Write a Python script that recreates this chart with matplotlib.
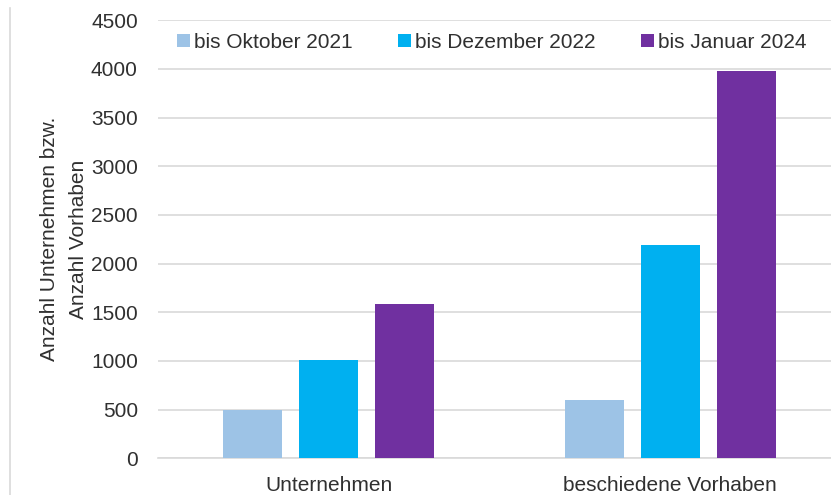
import matplotlib
matplotlib.use("Agg")
import matplotlib.pyplot as plt
import numpy as np
from matplotlib.patches import Patch
from matplotlib.lines import Line2D

categories = ["Unternehmen", "beschiedene Vorhaben"]
series_names = ["bis Oktober 2021", "bis Dezember 2022", "bis Januar 2024"]
values_okt2021 = [495, 595]
values_dez2022 = [1005, 2190]
values_jan2024 = [1585, 3980]
series_values = [values_okt2021, values_dez2022, values_jan2024]
colors = ["#9DC3E6", "#00B0F0", "#7030A0"]
yticks = [0, 500, 1000, 1500, 2000, 2500, 3000, 3500, 4000, 4500]
ylabel = "Anzahl Unternehmen bzw.\nAnzahl Vorhaben"

plt.rcParams['font.family'] = ['Liberation Sans', 'DejaVu Sans']
text_color = "#303030"
fs = 15

W, H = 831, 495
fig = plt.figure(figsize=(W / 100, H / 100), dpi=100)
left_px, right_px, top_px, bottom_px = 158, 841, 20.3, 458.3
ax = fig.add_axes([left_px / W, 1 - bottom_px / H, (right_px - left_px) / W, (bottom_px - top_px) / H])

x = np.arange(len(categories))
bw = 0.173
pitch = 0.2225
for i, (vals, c) in enumerate(zip(series_values, colors)):
    ax.bar(x + (i - 1) * pitch, vals, width=bw, color=c, zorder=3, label=series_names[i])

ax.set_xlim(-0.5, 1.5)
ax.set_ylim(0, 4500)
ax.set_yticks(yticks)
ax.set_yticklabels([str(t) for t in yticks])
ax.set_xticks(x)
ax.set_xticklabels(categories)
ax.yaxis.grid(True, color="#D9D9D9", linewidth=1.2, zorder=0)
ax.set_axisbelow(True)
for s in ["top", "right", "left"]:
    ax.spines[s].set_visible(False)
ax.spines["bottom"].set_color("#D9D9D9")
ax.spines["bottom"].set_linewidth(1.2)
ax.tick_params(axis="both", length=0, labelsize=fs, colors=text_color)
ax.tick_params(axis="y", pad=14.5)
ax.tick_params(axis="x", pad=13)

fig.text(64 / W, 1 - 239 / H, ylabel, rotation=90, ha="center", va="center",
         multialignment="center", fontsize=fs, color=text_color, linespacing=1.6)

handles = [Patch(facecolor=c, edgecolor="none") for c in colors]
leg = fig.legend(handles, series_names, loc="upper left",
                 bbox_to_anchor=(177 / W, 1 - 33 / H), ncol=3, frameon=False,
                 fontsize=fs, handlelength=0.6, handleheight=0.6,
                 handletextpad=0.2, columnspacing=2.2, borderpad=0, borderaxespad=0)
for t in leg.get_texts():
    t.set_color(text_color)

fig.add_artist(Line2D([9.5 / W, 9.5 / W], [0, 1 - 8 / H], color="#D9D9D9", linewidth=1.2))

fig.savefig("out.png", dpi=100)
